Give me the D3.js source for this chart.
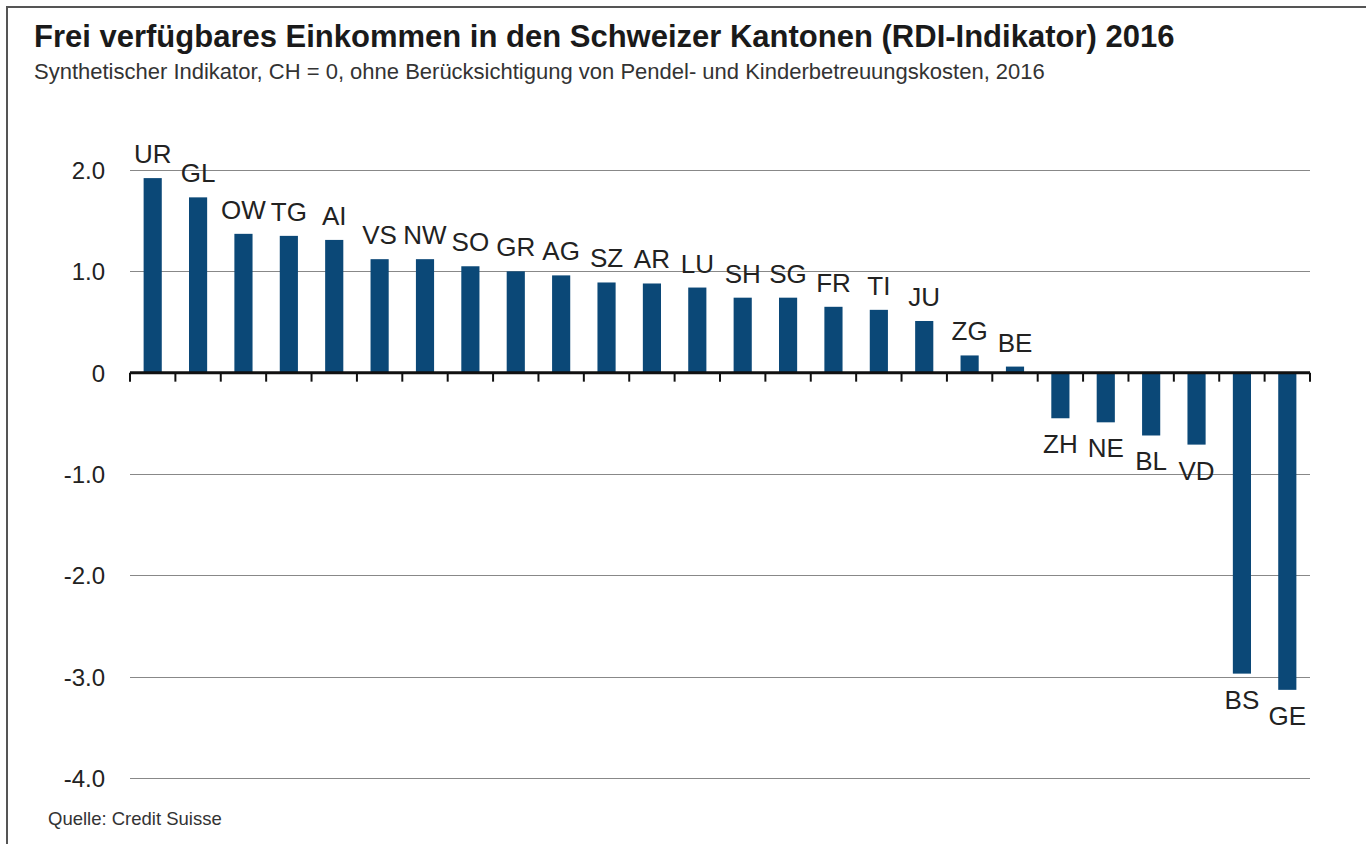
<!DOCTYPE html>
<html>
<head>
<meta charset="utf-8">
<script src="https://cdn.jsdelivr.net/npm/d3@7"></script>
<style>
  body { margin: 0; background: #fff; }
  svg { display: block; font-family: "Liberation Sans", Arial, sans-serif; }
</style>
</head>
<body>
<svg id="chart" width="1366" height="844"></svg>
<script>
// Kantone, sortiert nach RDI-Wert
var cantons = ["UR","GL","OW","TG","AI","VS","NW","SO","GR","AG","SZ","AR","LU","SH","SG","FR","TI","JU","ZG","BE","ZH","NE","BL","VD","BS","GE"];
var rdi = [1.92,1.73,1.37,1.35,1.31,1.12,1.12,1.05,1.0,0.96,0.89,0.88,0.84,0.74,0.74,0.65,0.62,0.51,0.17,0.06,-0.45,-0.49,-0.62,-0.71,-2.97,-3.13];
var yTicks = [2, 1, 0, -1, -2, -3, -4];
var yTickLabels = ["2.0","1.0","0","-1.0","-2.0","-3.0","-4.0"];

var title = "Frei verfügbares Einkommen in den Schweizer Kantonen (RDI-Indikator) 2016";
var subtitle = "Synthetischer Indikator, CH = 0, ohne Berücksichtigung von Pendel- und Kinderbetreuungskosten, 2016";
var source = "Quelle: Credit Suisse";

var svg = d3.select("#chart");

// frame
svg.append("line").attr("x1",7).attr("x2",1366).attr("y1",7).attr("y2",7)
  .attr("stroke","#555").attr("stroke-width",2);
svg.append("line").attr("x1",7).attr("x2",7).attr("y1",6).attr("y2",844)
  .attr("stroke","#555").attr("stroke-width",2);

svg.append("text").attr("x",34).attr("y",47)
  .attr("font-size",31).attr("font-weight","bold").attr("fill","#1a1a1a")
  .text(title);
svg.append("text").attr("x",34).attr("y",79)
  .attr("font-size",22).attr("fill","#333")
  .text(subtitle);
svg.append("text").attr("x",48).attr("y",825)
  .attr("font-size",18.5).attr("fill","#333")
  .text(source);

var left = 130, right = 1310;

var x = d3.scaleBand()
  .domain(cantons)
  .range([left, right])
  .paddingInner(0.6)
  .paddingOuter(0.3);

var y = d3.scaleLinear()
  .domain([-4, 2])
  .range([778, 170]);

// gridlines
svg.append("g").selectAll("line")
  .data(yTicks.filter(function(d){ return d !== 0; }))
  .enter().append("line")
  .attr("x1", left).attr("x2", right)
  .attr("y1", function(d){ return Math.round(y(d)) + 0.5; })
  .attr("y2", function(d){ return Math.round(y(d)) + 0.5; })
  .attr("stroke", "#888").attr("stroke-width", 1);

// y labels
svg.append("g").selectAll("text")
  .data(yTicks)
  .enter().append("text")
  .attr("x", 105)
  .attr("y", function(d){ return y(d) + 9; })
  .attr("text-anchor", "end")
  .attr("font-size", 24)
  .attr("fill", "#222")
  .text(function(d, i){ return yTickLabels[i]; });

// bars
svg.append("g").selectAll("rect")
  .data(rdi)
  .enter().append("rect")
  .attr("x", function(d, i){ return x(cantons[i]); })
  .attr("width", x.bandwidth())
  .attr("y", function(d){ return d >= 0 ? y(d) : y(0); })
  .attr("height", function(d){ return Math.abs(y(d) - y(0)); })
  .attr("fill", "#0b4877");

// bar labels
svg.append("g").selectAll("text")
  .data(rdi)
  .enter().append("text")
  .attr("x", function(d, i){ return x(cantons[i]) + x.bandwidth() / 2; })
  .attr("y", function(d){ return d >= 0 ? y(d) - 15 : y(d) + 35; })
  .attr("text-anchor", "middle")
  .attr("font-size", 26)
  .attr("fill", "#222")
  .text(function(d, i){ return cantons[i]; });

// zero axis with ticks at band boundaries
var step = (right - left) / cantons.length;
var bounds = d3.range(cantons.length + 1).map(function(i){ return left + i * step; });
svg.append("g").selectAll("line")
  .data(bounds)
  .enter().append("line")
  .attr("x1", function(d){ return d; }).attr("x2", function(d){ return d; })
  .attr("y1", y(0)).attr("y2", y(0) + 9)
  .attr("stroke", "#111").attr("stroke-width", 2);
svg.append("line")
  .attr("x1", left).attr("x2", right)
  .attr("y1", y(0)).attr("y2", y(0))
  .attr("stroke", "#111").attr("stroke-width", 3);
</script>
</body>
</html>
